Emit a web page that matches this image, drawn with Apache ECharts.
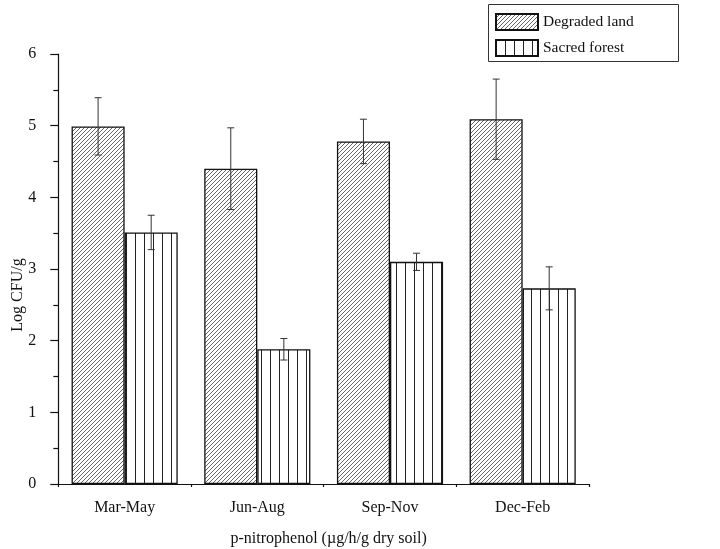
<!DOCTYPE html>
<html>
<head>
<meta charset="utf-8">
<script src="https://cdn.jsdelivr.net/npm/echarts@6/dist/echarts.min.js"></script>
<style>
html,body{margin:0;padding:0;background:#fff;}
#main{width:720px;height:549px;}
</style>
</head>
<body>
<div id="main"></div>
<script>
var categories = ["Mar-May", "Jun-Aug", "Sep-Nov", "Dec-Feb"];
var degradedValues = [4.99, 4.40, 4.78, 5.09];
var degradedErrors = [0.40, 0.57, 0.31, 0.56];
var sacredValues = [3.51, 1.88, 3.10, 2.73];
var sacredErrors = [0.24, 0.15, 0.12, 0.30];
var seriesNames = ["Degraded land", "Sacred forest"];
var yTicks = [0, 1, 2, 3, 4, 5, 6];

var FONT = "Liberation Serif";

function hatchPattern() {
  var c = document.createElement('canvas');
  var s = 4;
  c.width = s; c.height = s;
  var g = c.getContext('2d');
  g.fillStyle = '#ffffff';
  g.fillRect(0, 0, s, s);
  g.strokeStyle = '#555555';
  g.lineWidth = 0.9;
  g.beginPath();
  g.moveTo(-1, s + 1); g.lineTo(s + 1, -1);
  g.moveTo(-1, 1); g.lineTo(1, -1);
  g.moveTo(s - 1, s + 1); g.lineTo(s + 1, s - 1);
  g.stroke();
  return c;
}
function verticalPattern() {
  var c = document.createElement('canvas');
  c.width = 9; c.height = 4;
  var g = c.getContext('2d');
  g.fillStyle = '#ffffff';
  g.fillRect(0, 0, 9, 4);
  g.fillStyle = '#222222';
  g.fillRect(0, 0, 1, 4);
  return c;
}

var chart = echarts.init(document.getElementById('main'), null, {renderer: 'canvas'});

function errData(vals, errs) {
  return vals.map(function (v, i) { return [i, v - errs[i], v + errs[i]]; });
}

function errRender(sign) {
  return function (params, api) {
    var x = api.value(0);
    var lo = api.coord([x, api.value(1)]);
    var hi = api.coord([x, api.value(2)]);
    var band = api.size([1, 0])[0];
    var cx = lo[0] + sign * band * 0.2;
    var w = 3.5;
    var st = {stroke: '#333', lineWidth: 1};
    return {
      type: 'group',
      children: [
        {type: 'line', shape: {x1: cx, y1: hi[1], x2: cx, y2: lo[1]}, style: st},
        {type: 'line', shape: {x1: cx - w, y1: hi[1], x2: cx + w, y2: hi[1]}, style: st},
        {type: 'line', shape: {x1: cx - w, y1: lo[1], x2: cx + w, y2: lo[1]}, style: st}
      ]
    };
  };
}

var option = {
  backgroundColor: '#ffffff',
  animation: false,
  grid: {left: 58.3, right: 131, top: 54, bottom: 65, outerBoundsMode: 'none', containLabel: false},
  legend: {
    left: 495, top: 13, orient: 'vertical', padding: 0,
    itemWidth: 42, itemHeight: 16, itemGap: 8,
    icon: 'rect',
    data: seriesNames,
    textStyle: {fontFamily: FONT, fontSize: 15.5, color: '#111'}
  },
  graphic: [{
    type: 'rect',
    shape: {x: 488.5, y: 4.5, width: 190, height: 57},
    style: {fill: null, stroke: '#333', lineWidth: 1}
  }],
  xAxis: [{
    type: 'category',
    data: categories,
    position: 'bottom',
    axisLine: {lineStyle: {color: '#111', width: 1.2}},
    axisTick: {alignWithLabel: true, length: 8, lineStyle: {color: '#111', width: 1.2}},
    axisLabel: {fontFamily: FONT, fontSize: 16, color: '#111', margin: 16},
    name: 'p-nitrophenol (µg/h/g dry soil)',
    nameLocation: 'middle',
    nameGap: 47,
    nameMoveOverlap: false,
    nameTextStyle: {fontFamily: FONT, fontSize: 16, color: '#111', padding: [0, 0, 0, 10]}
  }, {
    type: 'category',
    data: categories,
    position: 'bottom',
    axisLine: {show: false},
    axisTick: {show: true, length: 3, lineStyle: {color: '#111', width: 1.2}},
    axisLabel: {show: false}
  }],
  yAxis: {
    type: 'value',
    min: yTicks[0], max: yTicks[yTicks.length - 1], interval: 1,
    axisLine: {show: true, lineStyle: {color: '#111', width: 1.2}},
    axisTick: {show: true, length: 8, lineStyle: {color: '#111', width: 1.2}},
    minorTick: {show: true, splitNumber: 2, length: 5, lineStyle: {color: '#111', width: 1.2}},
    splitLine: {show: false},
    axisLabel: {fontFamily: FONT, fontSize: 16, color: '#111', margin: 22},
    name: 'Log CFU/g',
    nameLocation: 'middle',
    nameGap: 33,
    nameRotate: 90,
    nameMoveOverlap: false,
    nameTextStyle: {fontFamily: FONT, fontSize: 16, color: '#111', padding: [0, 52, 0, 0]}
  },
  series: [{
    name: seriesNames[0],
    type: 'bar',
    data: degradedValues,
    barGap: '0%',
    barCategoryGap: '20%',
    itemStyle: {color: {image: hatchPattern(), repeat: 'repeat'}, borderColor: '#111', borderWidth: 1.3}
  }, {
    name: seriesNames[1],
    type: 'bar',
    data: sacredValues,
    barGap: '0%',
    barCategoryGap: '20%',
    itemStyle: {color: {image: verticalPattern(), repeat: 'repeat'}, borderColor: '#111', borderWidth: 1.3}
  }, {
    type: 'custom',
    data: errData(degradedValues, degradedErrors),
    encode: {x: 0, y: [1, 2]},
    renderItem: errRender(-1),
    z: 10, silent: true
  }, {
    type: 'custom',
    data: errData(sacredValues, sacredErrors),
    encode: {x: 0, y: [1, 2]},
    renderItem: errRender(1),
    z: 10, silent: true
  }]
};
chart.setOption(option);
</script>
</body>
</html>
